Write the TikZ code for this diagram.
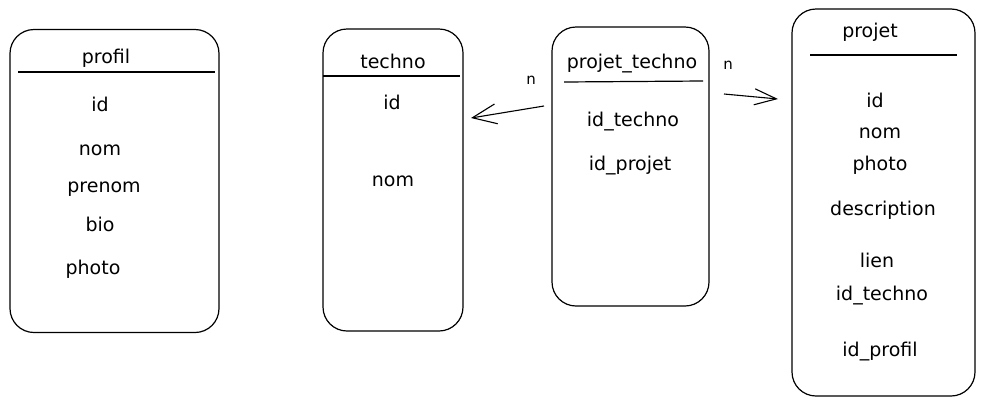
\documentclass[tikz,border=0pt]{standalone}
\usepackage{fontspec}
\setmainfont{DejaVu Sans}
\usetikzlibrary{arrows.meta}
\begin{document}
\begin{tikzpicture}[x=1pt,y=-1pt,
  tbl/.style={draw=black,line width=1.2pt,rounded corners=24pt,inner sep=0pt},
  fld/.style={font=\fontsize{19}{21}\selectfont,inner sep=0pt,anchor=center},
  sep/.style={line width=1.2pt},
  card/.style={font=\fontsize{15}{17}\selectfont,inner sep=0pt},
  rel/.style={line width=1.1pt,-{Straight Barb[length=24pt,width=20pt,line width=1.1pt]}}]
\useasboundingbox (0,0) rectangle (982,405);
% boxes
\node[tbl,minimum width=209pt,minimum height=303pt] (profil) at (114.5,181) {};
\node[tbl,minimum width=140pt,minimum height=302pt] (techno) at (393,180) {};
\node[tbl,minimum width=157pt,minimum height=279pt] (pt) at (630.5,166.5) {};
\node[tbl,minimum width=183pt,minimum height=387pt] (projet) at (883.5,202.5) {};
% separators
\draw[sep] (18,72) -- (215,72);
\draw[sep] (323,76) -- (460,76);
\draw[sep] (564,82) -- (703,81);
\draw[sep] (810,55) -- (957,55);
% profil
\node[fld] (profilT) at (106,58) {profil};
\node[fld] (p1) at (100,104) {id};
\node[fld] (p2) at (100,150) {nom};
\node[fld] (p3) at (104,189) {prenom};
\node[fld] (p4) at (100,224) {bio};
\node[fld] (p5) at (93,269) {photo};
% techno
\node[fld] (technoT) at (393,61) {techno};
\node[fld] (t1) at (392,102) {id};
\node[fld] (t2) at (393,181) {nom};
% projet_techno
\node[fld] (ptT) at (632,64) {projet\_techno};
\node[fld] (pt1) at (633,122) {id\_techno};
\node[fld] (pt2) at (630,166) {id\_projet};
% projet
\node[fld] (projetT) at (870,32) {projet};
\node[fld] (j1) at (875,100) {id};
\node[fld] (j2) at (880,133) {nom};
\node[fld] (j3) at (880,165) {photo};
\node[fld] (j4) at (883,210) {description};
\node[fld] (j5) at (877,260) {lien};
\node[fld] (j6) at (882,296) {id\_techno};
\node[fld] (j7) at (880,352) {id\_profil};
% cardinalities
\node[card] (nL) at (531,80) {n};
\node[card] (nR) at (728,65) {n};
% connectors
\coordinate (aLs) at (544,106);
\coordinate (aLe) at (471,118);
\coordinate (aRs) at (724,94);
\coordinate (aRe) at (778,99);
\draw[rel] (aLs) -- (aLe);
\draw[rel,-{Straight Barb[length=22pt,width=16pt,line width=1.1pt]}] (aRs) -- (aRe);
\end{tikzpicture}
\end{document}
